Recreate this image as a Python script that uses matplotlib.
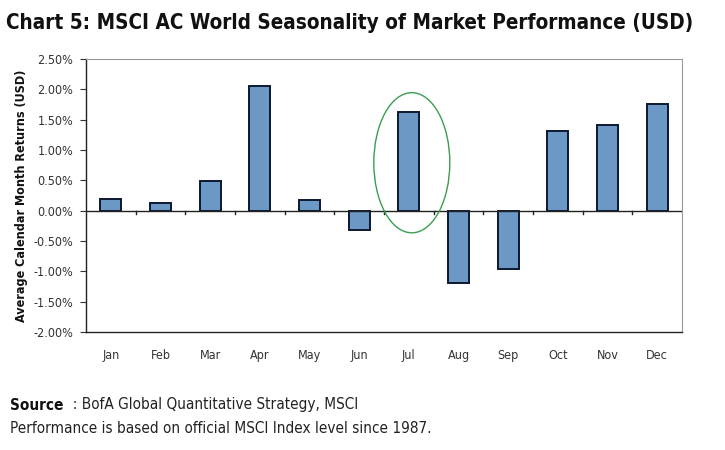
import matplotlib.pyplot as plt
import numpy as np
from matplotlib.patches import Ellipse
from matplotlib.ticker import FuncFormatter, MultipleLocator

months = ["Jan", "Feb", "Mar", "Apr", "May", "Jun",
          "Jul", "Aug", "Sep", "Oct", "Nov", "Dec"]
avg_returns = [0.19, 0.13, 0.49, 2.06, 0.18, -0.32,
               1.63, -1.20, -0.96, 1.32, 1.41, 1.76]
highlight_month = "Jul"

plt.rcParams["font.family"] = ["DejaVu Sans"]
plt.rcParams["font.stretch"] = "condensed"

fig = plt.figure(figsize=(7.25, 4.5), dpi=100)
ax = fig.add_axes([0.1186, 0.2622, 0.8221, 0.6067])

x = np.arange(len(months))
ax.bar(x, avg_returns, width=0.42, color="#6b98c5",
       edgecolor="#0b1830", linewidth=1.4, zorder=3)

ax.set_xlim(-0.5, len(months) - 0.5)
ax.set_ylim(-2.0, 2.5)
ax.yaxis.set_major_locator(MultipleLocator(0.5))
ax.yaxis.set_major_formatter(FuncFormatter(lambda v, _: f"{v:.2f}%"))

# x axis drawn at zero, ticks between categories
ax.axhline(0, color="#222222", linewidth=1.0, zorder=4)
ax.set_xticks(x)
ax.set_xticklabels(months)
ax.tick_params(axis="x", length=0, pad=12, labelsize=9, colors="#333333")
for b in np.arange(0.5, len(months) - 0.5, 1.0):
    ax.plot([b, b], [0, -0.06], color="#222222", linewidth=1.0, zorder=4)
ax.tick_params(axis="y", direction="out", length=4, pad=5, labelsize=9,
               colors="#333333", width=0.8)

for side in ["left", "bottom"]:
    ax.spines[side].set_color("#222222")
    ax.spines[side].set_linewidth(1.0)
for side in ["top", "right"]:
    ax.spines[side].set_color("#999999")
    ax.spines[side].set_linewidth(0.8)

ax.set_ylabel("Average Calendar Month Returns (USD)", fontsize=9,
              fontweight="bold", color="#111111", labelpad=4)

# highlight ring
i = months.index(highlight_month)
ax.add_patch(Ellipse((i + 0.06, 0.79), 1.53, 2.31, fill=False,
                     edgecolor="#3a9e50", linewidth=1.0, zorder=5))

title = fig.text(0.008, 0.948,
                 "Chart 5: MSCI AC World Seasonality of Market Performance (USD)",
                 fontsize=17, fontweight="bold", color="#111111", va="center")

# fit the title to the reference width (~687 px)
renderer = fig.canvas.get_renderer()
w = title.get_window_extent(renderer).width
title.set_fontsize(17 * 687 / w)

src = fig.text(0.014, 0.1, "Source", fontsize=11, fontweight="bold",
               color="#111111", va="center")
ax.annotate("  : BofA Global Quantitative Strategy, MSCI", xy=(1, 0.5),
            xycoords=src, fontsize=11, color="#222222", va="center",
            ha="left", annotation_clip=False)
fig.text(0.014, 0.048, "Performance is based on official MSCI Index level since 1987.",
         fontsize=11, color="#222222", va="center")

fig.savefig("out.png", dpi=100, facecolor="white")
